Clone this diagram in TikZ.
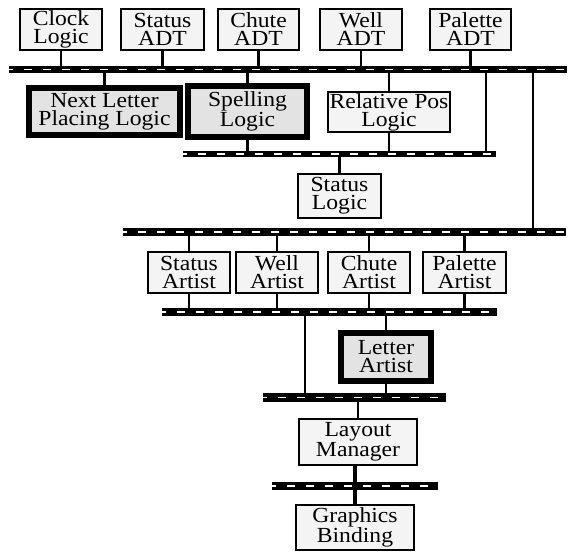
\documentclass[tikz,border=0pt]{standalone}
\usepackage{fontspec}
\setmainfont[FakeStretch = 1.1]{Liberation Serif}

\definecolor{boxgray}{HTML}{F4F4F4}
\definecolor{heavygray}{HTML}{E3E3E3}

\tikzset{
	module/.style = {draw, line width = 2.4pt, fill = boxgray, inner sep = 0pt, align = center, font = \fontsize{21.5}{18}\selectfont},
	heavy/.style = {line width = 6pt, fill = heavygray},
	bus/.style = {fill = black, inner sep = 0pt, path picture = {\draw [white, line width = 1.8pt, dash pattern = on 8pt off 11pt, dash phase = 4pt] (path picture bounding box.west) -- (path picture bounding box.east);}},
	link/.style = {line width = 2.5pt},
}

\begin{document}
\begin{tikzpicture}[x = 1pt, y = -1pt]

	\useasboundingbox (0, 0) rectangle (569, 552);

	% Buses
	
	\node [bus, minimum width = 558pt, minimum height = 7pt] (bus1) at (288, 69.5) {};
	\node [bus, minimum width = 313pt, minimum height = 6.5pt] (bus2) at (339.5, 154) {};
	\node [bus, minimum width = 443pt, minimum height = 8pt] (bus3) at (344.5, 232) {};
	\node [bus, minimum width = 335pt, minimum height = 8pt] (bus4) at (329.5, 312) {};
	\node [bus, minimum width = 183pt, minimum height = 9pt] (bus5) at (354.5, 397.5) {};
	\node [bus, minimum width = 166pt, minimum height = 8pt] (bus6) at (355, 486) {};
	
	% ADTs and clock along the top
	
	\begin{scope}[every node/.style = {module, minimum height = 40.6pt}]
	
		\node [minimum width = 81.6pt] (clock) at (61, 29.5) {Clock\\Logic};
		\node [minimum width = 82.6pt] (statusadt) at (162.5, 29.5) {Status\\ADT};
		\node [minimum width = 80.6pt] (chuteadt) at (258.5, 29.5) {Chute\\ADT};
		\node [minimum width = 81.6pt] (welladt) at (361, 29.5) {Well\\ADT};
		\node [minimum width = 80.6pt] (paletteadt) at (470.5, 29.5) {Palette\\ADT};
	
	\end{scope}
	
	% Logic modules
	
	\node [module, heavy, minimum width = 151pt, minimum height = 47pt] (nextletter) at (104.5, 111.5) {Next Letter\\Placing Logic};
	\node [module, heavy, minimum width = 119pt, minimum height = 51pt] (spelling) at (247.5, 111.5) {Spelling\\Logic};
	\node [module, minimum width = 121.6pt, minimum height = 39.6pt] (relpos) at (389, 112) {Relative Pos\\Logic};
	\node [module, minimum width = 82.6pt, minimum height = 43.6pt] (statuslogic) at (339.5, 196) {Status\\Logic};
	
	% Artists
	
	\begin{scope}[every node/.style = {module, minimum height = 40.6pt}]
	
		\node [minimum width = 81.6pt] (statusartist) at (189, 272.5) {Status\\Artist};
		\node [minimum width = 81.6pt] (wellartist) at (277, 272.5) {Well\\Artist};
		\node [minimum width = 81.6pt] (chuteartist) at (369, 272.5) {Chute\\Artist};
		\node [minimum width = 82.6pt] (paletteartist) at (464.5, 272.5) {Palette\\Artist};
	
	\end{scope}
	
	\node [module, heavy, minimum width = 90pt, minimum height = 48pt] (letterartist) at (386, 357) {Letter\\Artist};
	
	% Bottom of the stack
	
	\node [module, minimum width = 117.6pt, minimum height = 45.6pt] (layout) at (358, 442) {Layout\\Manager};
	\node [module, minimum width = 117.6pt, minimum height = 44.6pt] (graphics) at (355, 527.5) {Graphics\\Binding};
	
	% Connections to the buses
	
	\foreach \m in {clock, statusadt, chuteadt, welladt, paletteadt}
		\draw [link] (\m.south) -- (\m.south |- bus1.north);
	
	\foreach \m in {nextletter, spelling, relpos}
		\draw [link] (\m.north |- bus1.south) -- (\m.north);
	
	\foreach \m in {spelling, relpos}
		\draw [link] (\m.south) -- (\m.south |- bus2.north);
	
	\draw [link] ([xshift = -10pt]bus2.north east) -- ([xshift = -10pt]bus2.north east |- bus1.south);
	\draw [link] ([xshift = -33pt]bus3.north east) -- ([xshift = -33pt]bus3.north east |- bus1.south);
	\draw [link] (statuslogic.north |- bus2.south) -- (statuslogic.north);
	
	\foreach \m in {statusartist, wellartist, chuteartist, paletteartist} {
		\draw [link] (\m.north |- bus3.south) -- (\m.north);
		\draw [link] (\m.south) -- (\m.south |- bus4.north);
	}
	
	\draw [link] ([xshift = 42pt]bus5.north west) -- ([xshift = 42pt]bus5.north west |- bus4.south);
	\draw [link] (letterartist.north |- bus4.south) -- (letterartist.north);
	\draw [link] (letterartist.south) -- (letterartist.south |- bus5.north);
	\draw [link] (layout.north |- bus5.south) -- (layout.north);
	\draw [link, line width = 3.5pt] (graphics.north |- layout.south) -- (graphics.north);

\end{tikzpicture}
\end{document}
